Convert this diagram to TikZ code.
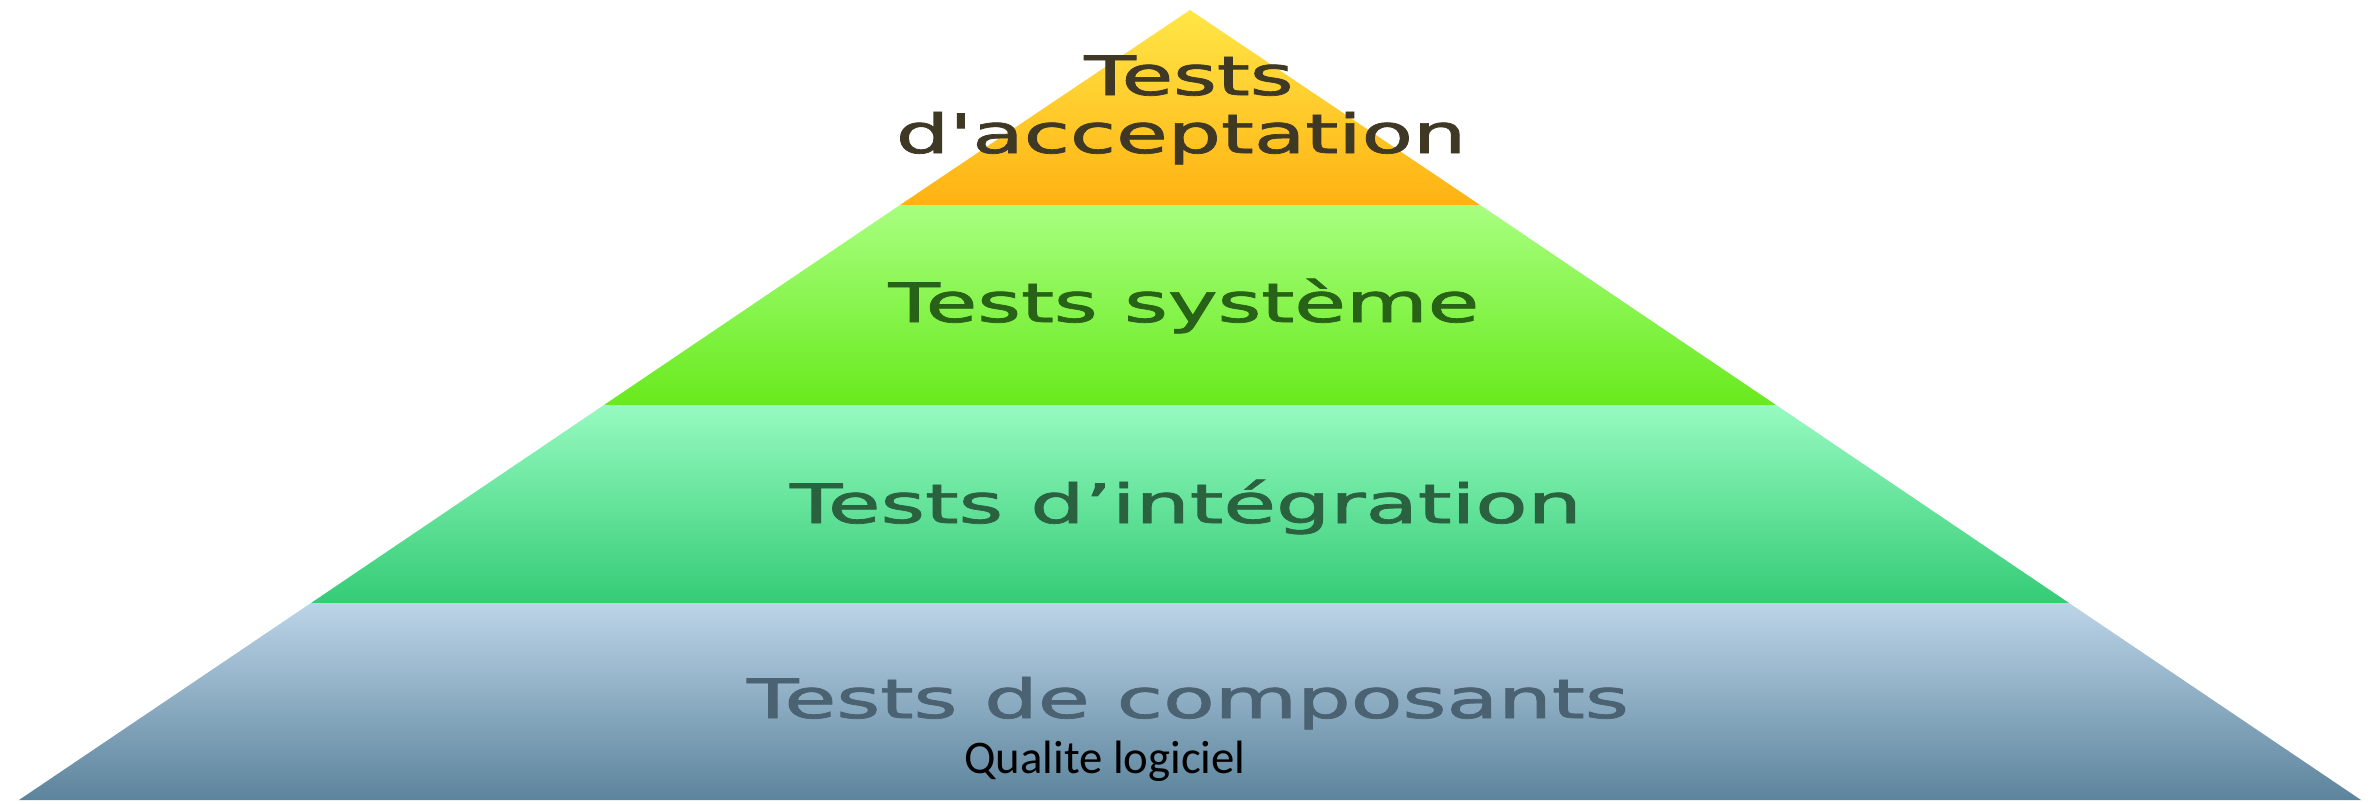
\documentclass[tikz,border=0pt]{standalone}
\usepackage{fontspec}
\setmainfont{DejaVu Sans}
\newfontfamily\pyrfont[FakeBold=1.3]{DejaVu Sans}
\newfontfamily\calibri{Carlito}
\usetikzlibrary{positioning,calc}
\definecolor{acctop}{RGB}{255, 230, 70}
\definecolor{accbot}{RGB}{255, 178, 18}
\definecolor{systop}{RGB}{168, 255, 128}
\definecolor{sysbot}{RGB}{104, 234, 28}
\definecolor{inttop}{RGB}{150, 250, 192}
\definecolor{intbot}{RGB}{52, 204, 118}
\definecolor{comtop}{RGB}{188, 212, 232}
\definecolor{commid}{RGB}{150, 186, 210}
\definecolor{combot}{RGB}{92, 132, 156}
\definecolor{acctxt}{RGB}{62, 56, 36}
\definecolor{systxt}{RGB}{40, 98, 22}
\definecolor{inttxt}{RGB}{42, 98, 64}
\definecolor{comtxt}{RGB}{74, 98, 114}
\tikzstyle{level}=[font=\pyrfont\fontsize{15.4}{19}\selectfont,transform shape,inner sep=0pt,anchor=base]
\tikzstyle{band}=[draw=none]

\begin{document}
\begin{tikzpicture}[x=0.01cm,y=-0.01cm]
      \useasboundingbox (0,0) rectangle (2380,803);
      \fill[white] (0,0) rectangle (2380,803);

      % pyramid layers
      \path[band,top color=acctop,bottom color=accbot] (1190,10) -- (1480,205) -- (900,205) -- cycle;
      \path[band,top color=systop,bottom color=sysbot] (900,205) -- (1480,205) -- (1776,405) -- (604,405) -- cycle;
      \path[band,top color=inttop,bottom color=intbot] (604,405) -- (1776,405) -- (2069,603) -- (311,603) -- cycle;
      \path[band,top color=comtop,middle color=commid,bottom color=combot] (311,603) -- (2069,603) -- (2361,800) -- (19,800) -- cycle;

      \node (acc1) [level,xscale=1.55,text=acctxt] at (1189,95) {Tests};
      \node (acc2) [level,xscale=1.55,text=acctxt] at (1181,153) {d\textquotesingle acceptation};
      \node (sys) [level,xscale=1.55,text=systxt] at (1184,322) {Tests système};
      \node (integ) [level,xscale=1.58,text=inttxt] at (1186,523) {Tests d’intégration};
      \node (comp) [level,xscale=1.56,text=comtxt] at (1188,718) {Tests de composants};

      \node (qual) [anchor=base,inner sep=0pt,font=\calibri\fontsize{13.3}{16}\selectfont] at (1105,773) {Qualite logiciel};
    \end{tikzpicture}
\end{document}
